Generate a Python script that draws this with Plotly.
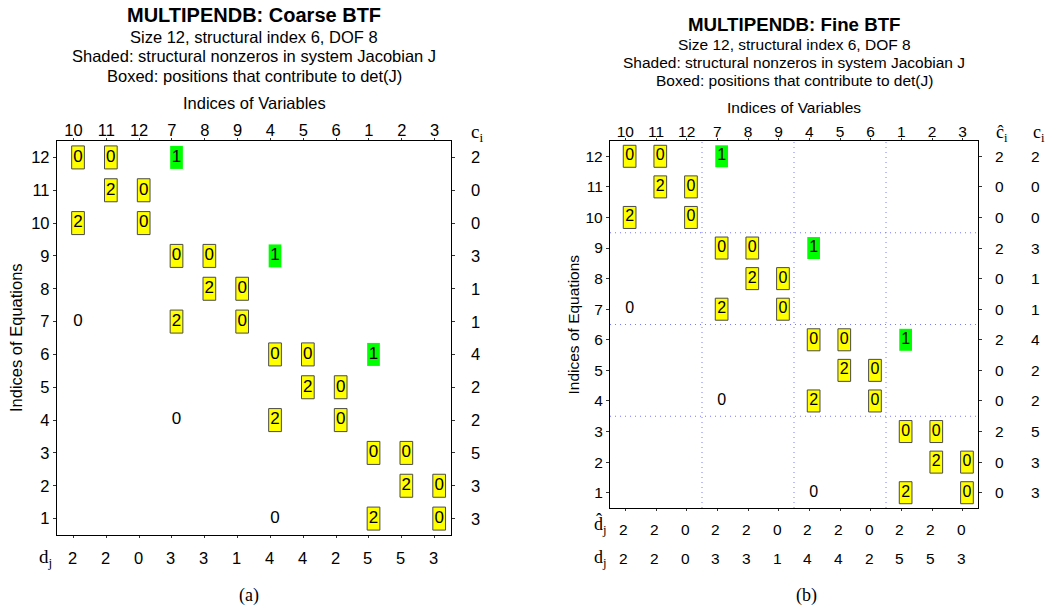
import plotly.graph_objects as go

W, H = 1050, 609

# ---------------- data ----------------
col_labels = ["10", "11", "12", "7", "8", "9", "4", "5", "6", "1", "2", "3"]
row_labels = ["12", "11", "10", "9", "8", "7", "6", "5", "4", "3", "2", "1"]  # top to bottom

# entries: (equation index, variable index, shown value, kind)
# kind: "box" = boxed (yellow), "shade" = shaded only (green), "plain" = text only
entries = [
    (12, 10, "0", "box"), (12, 11, "0", "box"), (12, 7, "1", "shade"),
    (11, 11, "2", "box"), (11, 12, "0", "box"),
    (10, 10, "2", "box"), (10, 12, "0", "box"),
    (9, 7, "0", "box"), (9, 8, "0", "box"), (9, 4, "1", "shade"),
    (8, 8, "2", "box"), (8, 9, "0", "box"),
    (7, 10, "0", "plain"), (7, 7, "2", "box"), (7, 9, "0", "box"),
    (6, 4, "0", "box"), (6, 5, "0", "box"), (6, 1, "1", "shade"),
    (5, 5, "2", "box"), (5, 6, "0", "box"),
    (4, 7, "0", "plain"), (4, 4, "2", "box"), (4, 6, "0", "box"),
    (3, 1, "0", "box"), (3, 2, "0", "box"),
    (2, 2, "2", "box"), (2, 3, "0", "box"),
    (1, 4, "0", "plain"), (1, 1, "2", "box"), (1, 3, "0", "box"),
]

c_coarse = [2, 0, 0, 3, 1, 1, 4, 2, 2, 5, 3, 3]       # rows top to bottom
d_coarse = [2, 2, 0, 3, 3, 1, 4, 4, 2, 5, 5, 3]       # columns left to right
c_hat = [2, 0, 0, 2, 0, 0, 2, 0, 0, 2, 0, 0]
c_fine = [2, 0, 0, 3, 1, 1, 4, 2, 2, 5, 3, 3]
d_hat = [2, 2, 0, 2, 2, 0, 2, 2, 0, 2, 2, 0]
d_fine = [2, 2, 0, 3, 3, 1, 4, 4, 2, 5, 5, 3]
fine_blocks = [3, 3, 3, 3]   # fine BTF block sizes

SANS = "Liberation Sans"
SERIF = "Liberation Serif"


def px(x):
    return x / W


def py(y):
    return 1 - y / H


fig = go.Figure()
annotations = []
shapes = []


def ann(text, x, y, xref="paper", yref="paper", size=16, family=SANS, **kw):
    d = dict(text=text, x=x, y=y, xref=xref, yref=yref, showarrow=False,
             xanchor="center", yanchor="middle",
             font=dict(family=family, size=size, color="black"))
    d.update(kw)
    annotations.append(d)


def panel(k, box, fs, cell_fs, title, ylab_x, boxw, boxh):
    x0, y0, x1, y1 = box
    xa = "x" if k == 1 else f"x{k}"
    ya = "y" if k == 1 else f"y{k}"
    axkey = "xaxis" if k == 1 else f"xaxis{k}"
    aykey = "yaxis" if k == 1 else f"yaxis{k}"
    fig.update_layout(**{
        axkey: dict(domain=[px(x0), px(x1)], range=[-0.5, 11.5], anchor=ya,
                    side="top", tickvals=list(range(12)), ticktext=col_labels,
                    showgrid=False, zeroline=False, showline=True, linecolor="black",
                    linewidth=1.3, mirror="ticks", ticks="outside", ticklen=2,
                    tickcolor="#333", ticklabelstandoff=-5,
                    tickfont=dict(family=SANS, size=fs, color="black"),
                    fixedrange=True),
        aykey: dict(domain=[py(y1), py(y0)], range=[-0.5, 11.5], anchor=xa,
                    tickvals=list(range(12)), ticktext=row_labels[::-1],
                    showgrid=False, zeroline=False, showline=True, linecolor="black",
                    linewidth=1.3, mirror="ticks", ticks="outside", ticklen=3,
                    tickcolor="#333", tickfont=dict(family=SANS, size=fs, color="black"),
                    fixedrange=True),
    })
    xs, ys, ts = [], [], []
    off = 0.14
    for (r, c, v, kind) in entries:
        ci = col_labels.index(str(c))
        ri = 11 - row_labels.index(str(r))
        xs.append(ci + off)
        ys.append(ri)
        ts.append(v)
        if kind in ("box", "shade"):
            shapes.append(dict(
                type="rect", xref=xa, yref=ya, xsizemode="pixel", ysizemode="pixel",
                xanchor=ci + off, yanchor=ri, x0=-boxw / 2, x1=boxw / 2,
                y0=-boxh / 2, y1=boxh / 2,
                fillcolor="#ffff00" if kind == "box" else "#00ff00",
                line=dict(color="#4a4a4a" if kind == "box" else "rgba(0,0,0,0)",
                          width=1 if kind == "box" else 0),
                layer="below"))
    fig.add_trace(go.Scatter(x=xs, y=ys, text=ts, mode="text", xaxis=xa, yaxis=ya,
                             textposition="middle center", hoverinfo="skip",
                             textfont=dict(family=SANS, size=cell_fs, color="black"),
                             showlegend=False))
    cx = (x0 + x1) / 2
    tsz, lines, ly = title
    ann(f"<b>{lines[0]}</b>", px(cx), py(ly[0]), size=tsz)
    for t, yy in zip(lines[1:], ly[1:]):
        ann(t, px(cx), py(yy), size=fs)
    ann("Indices of Equations", px(ylab_x), py((y0 + y1) / 2), size=fs, textangle=-90)
    return xa, ya


# ---------------- left panel ----------------
xa1, ya1 = panel(1, (57, 141, 451, 535), 16.5, 17,
                 (20, ["MULTIPENDB: Coarse BTF", "Size 12, structural index 6, DOF 8",
                       "Shaded: structural nonzeros in system Jacobian J",
                       "Boxed: positions that contribute to det(J)",
                       "Indices of Variables"], [15, 37, 56, 76, 103]),
                 16, 12.7, 23)
ann("c<sub>i</sub>", px(477), py(133), size=19, family=SERIF)
for i, v in enumerate(c_coarse):
    ann(str(v), px(475), 11 - i, yref=ya1, size=16.5)
ann("d<sub>j</sub>", px(45), py(558), size=19, family=SERIF)
for j, v in enumerate(d_coarse):
    ann(str(v), j - 0.03, py(558), xref=xa1, size=16.5)
ann("(a)", px(249), py(595), size=18, family=SERIF)

# ---------------- right panel ----------------
xa2, ya2 = panel(2, (610, 141, 978, 508), 15.5, 16,
                 (18.7, ["MULTIPENDB: Fine BTF", "Size 12, structural index 6, DOF 8",
                         "Shaded: structural nonzeros in system Jacobian J",
                         "Boxed: positions that contribute to det(J)",
                         "Indices of Variables"], [25, 44, 63, 81, 107]),
                 573, 12.7, 22)
# dotted block boundaries
edges = []
acc = 0
for b in fine_blocks[:-1]:
    acc += b
    edges.append(acc - 0.5)
for e in edges:
    shapes.append(dict(type="line", xref=xa2, yref=ya2, x0=e, x1=e, y0=-0.5, y1=11.5,
                       line=dict(color="#7a7aff", width=1, dash="1px,4px"), layer="below"))
    shapes.append(dict(type="line", xref=xa2, yref=ya2, x0=-0.5, x1=11.5, y0=11 - e, y1=11 - e,
                       line=dict(color="#7a7aff", width=1, dash="1px,4px"), layer="below"))

ann("ĉ<sub>i</sub>", px(1002), py(133), size=18, family=SERIF)
ann("c<sub>i</sub>", px(1039), py(133), size=18, family=SERIF)
for i, (a, b) in enumerate(zip(c_hat, c_fine)):
    ann(str(a), px(999), 11 - i, yref=ya2, size=15.5)
    ann(str(b), px(1035), 11 - i, yref=ya2, size=15.5)
ann("d\u0302<sub>j</sub>", px(600), py(525), size=18, family=SERIF)
ann("d<sub>j</sub>", px(600), py(558), size=18, family=SERIF)
for j, (a, b) in enumerate(zip(d_hat, d_fine)):
    ann(str(a), j - 0.05, py(529), xref=xa2, size=15.5)
    ann(str(b), j - 0.05, py(558), xref=xa2, size=15.5)
ann("(b)", px(806), py(595), size=18, family=SERIF)

fig.update_layout(width=W, height=H, margin=dict(l=0, r=0, t=0, b=0),
                  paper_bgcolor="white", plot_bgcolor="white",
                  annotations=annotations, shapes=shapes, showlegend=False)

fig.write_html("out.html")
